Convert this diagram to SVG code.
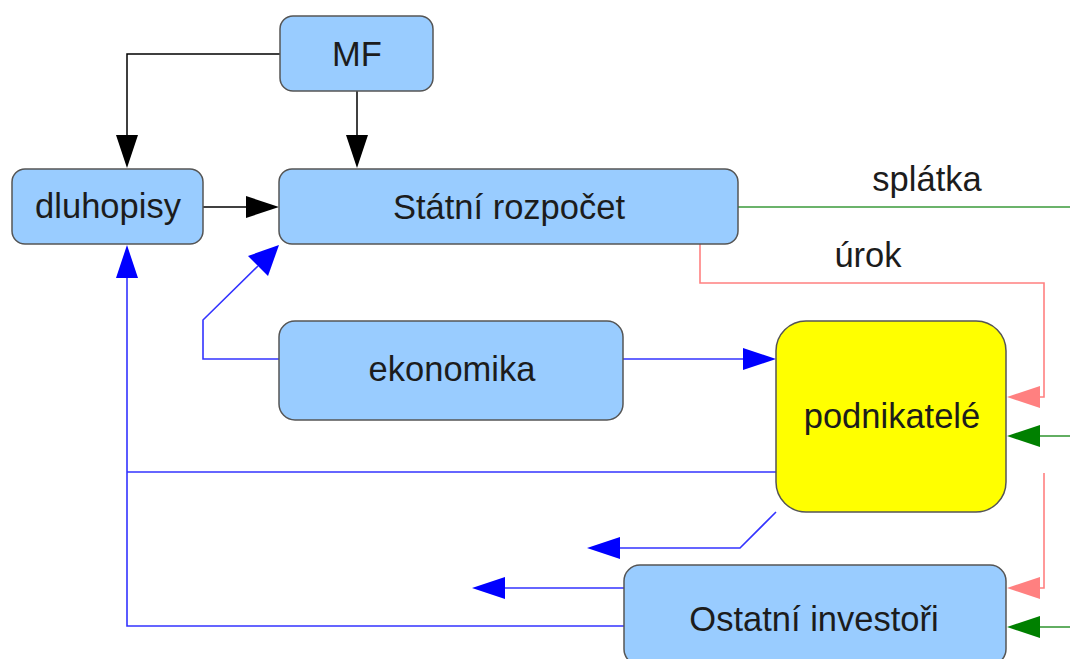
<svg xmlns="http://www.w3.org/2000/svg" width="1070" height="659" viewBox="0 0 1070 659">
<style>
.box{fill:#99ccff;stroke:#555;stroke-width:1.5}
.yel{fill:#ffff00;stroke:#555;stroke-width:1.5}
.t{font-family:"Liberation Sans",Arial,sans-serif;font-size:34.5px;fill:#1c1c1c;text-anchor:middle}
.k{fill:none;stroke:#000;stroke-width:1.5}
.b{fill:none;stroke:#3333ff;stroke-width:1.6}
.g{fill:none;stroke:#3a9a3a;stroke-width:1.6}
.r{fill:none;stroke:#ff8080;stroke-width:1.6}
</style>
<rect width="1070" height="659" fill="#fff"/>
<g id="connectors">
<path class="k" d="M280,54 H127 V136"/>
<polygon points="116,135 138,135 127,168" fill="#000"/>
<path class="k" d="M357,91 V136"/>
<polygon points="346,135 368,135 357,168" fill="#000"/>
<path class="k" d="M203,207 H247"/>
<polygon points="246,196 246,218 279,207" fill="#000"/>
<path class="b" d="M279,359 H203 V320 L258,266"/>
<polygon points="279,245 268,276 248,256" fill="#0000ff"/>
<path class="b" d="M623,359 H744"/>
<polygon points="743,348 743,370 776,359" fill="#0000ff"/>
<path class="b" d="M776,472 H127"/>
<path class="b" d="M624,626 H127 V277"/>
<polygon points="116,278 138,278 127,245" fill="#0000ff"/>
<path class="b" d="M776,512 L740,548 H618"/>
<polygon points="620,537 620,559 587,548" fill="#0000ff"/>
<path class="b" d="M624,588 H504"/>
<polygon points="505,577 505,599 472,588" fill="#0000ff"/>
<path class="g" d="M738,207 H1070"/>
<path class="r" d="M700,244 V283 H1044 V397 H1039"/>
<polygon points="1040,386 1040,408 1007,397" fill="#ff8080"/>
<path class="g" d="M1070,436 H1039"/>
<polygon points="1040,425 1040,447 1007,436" fill="#008000"/>
<path class="r" d="M1044,473 V588 H1039"/>
<polygon points="1040,577 1040,599 1007,588" fill="#ff8080"/>
<path class="g" d="M1070,627 H1039"/>
<polygon points="1040,616 1040,638 1007,627" fill="#008000"/>
<text class="t" x="927" y="191">splátka</text>
<text class="t" x="868" y="267">úrok</text>
</g>
<g id="mf"><rect class="box" x="280" y="16" width="153" height="75" rx="13"/><text class="t" x="357" y="66">MF</text></g>
<g id="dluhopisy"><rect class="box" x="12" y="169" width="191" height="75" rx="13"/><text class="t" x="108" y="218">dluhopisy</text></g>
<g id="rozpocet"><rect class="box" x="279" y="169" width="459" height="75" rx="13"/><text class="t" x="509" y="219">Státní rozpočet</text></g>
<g id="ekonomika"><rect class="box" x="279" y="321" width="344" height="99" rx="16"/><text class="t" x="452" y="381">ekonomika</text></g>
<g id="podnikatele"><rect class="yel" x="776" y="321" width="230" height="191" rx="30"/><text class="t" x="892" y="428">podnikatelé</text></g>
<g id="investori"><rect class="box" x="624" y="565" width="382" height="100" rx="16"/><text class="t" x="814" y="631">Ostatní investoři</text></g>
</svg>
